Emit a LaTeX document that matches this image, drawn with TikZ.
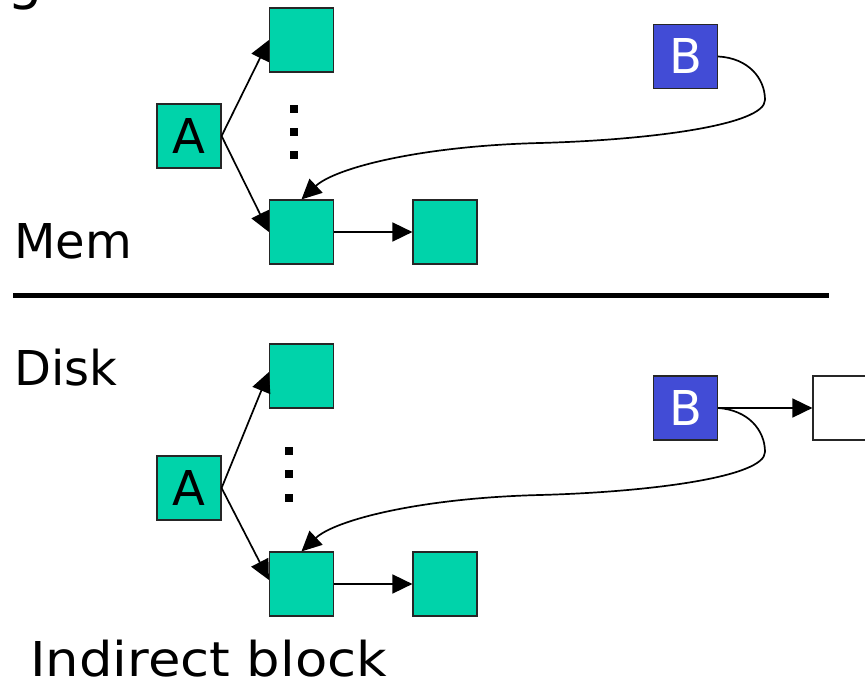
\documentclass[tikz,border=0pt]{standalone}
\usepackage{fontspec}
\setmainfont{DejaVu Sans}
\usetikzlibrary{arrows.meta}
\definecolor{tealB}{RGB}{0,211,170}
\definecolor{blueB}{RGB}{66,76,214}
\begin{document}
\begin{tikzpicture}[x=1pt,y=-1pt,
  blk/.style={draw=black!85, line width=1.2pt, fill=tealB, minimum size=64pt, inner sep=0pt, font=\fontsize{48}{48}\selectfont},
  bblk/.style={blk, fill=blueB, text=white},
  wblk/.style={blk, fill=white},
  dotsq/.style={fill=black, minimum size=8pt, inner sep=0pt},
  conn/.style={line width=1.7pt, -{Triangle[length=20pt,width=19pt]}},
  lbl/.style={inner sep=0pt, anchor=base west, font=\fontsize{48}{48}\selectfont}]
\clip (0,0) rectangle (865,684);
% ---- Mem section
\node[blk] (A1) at (189,136) {A};
\node[blk] (T1) at (301.5,40) {};
\node[blk] (M1) at (301.5,232) {};
\node[blk] (R1) at (445,232) {};
\node[bblk] (B1) at (685.5,56.5) {B};
\node[dotsq] (d11) at (294,109) {};
\node[dotsq] (d12) at (294,132) {};
\node[dotsq] (d13) at (294,155) {};
\draw[conn] (A1.east) -- (T1.west);
\draw[conn] (A1.east) -- (M1.west);
\draw[conn] (M1.east) -- (R1.west);
\draw[conn] (B1.east) .. controls (748,58) and (765,78) .. (765,100)
  .. controls (765,125) and (650,140) .. (540,143)
  .. controls (420,146) and (335,168) .. (M1.north);
% ---- separator
\coordinate (s1) at (13,296);
\coordinate (s2) at (829,296);
\draw[line width=5pt] (s1) -- (s2);
% ---- Disk section
\node[blk] (A2) at (189,488) {A};
\node[blk] (T2) at (301.5,376) {};
\node[blk] (M2) at (301.5,584) {};
\node[blk] (R2) at (445,584) {};
\node[bblk] (B2) at (685.5,408) {B};
\node[wblk] (W2) at (845,408) {};
\node[dotsq] (d21) at (289,451) {};
\node[dotsq] (d22) at (289,474) {};
\node[dotsq] (d23) at (289,498) {};
\draw[conn] (A2.east) -- ([yshift=4pt]T2.west);
\draw[conn] (A2.east) -- ([yshift=4pt]M2.west);
\draw[conn] (M2.east) -- (R2.west);
\draw[conn] (B2.east) -- (W2.west);
\draw[conn] (B2.east) .. controls (748,410) and (765,430) .. (765,452)
  .. controls (765,477) and (650,492) .. (540,495)
  .. controls (420,498) and (335,520) .. (M2.north);
% ---- labels
\node[lbl] (mem) at (14,259) {Mem};
\node[lbl] (disk) at (14,386) {Disk};
\node[lbl] (ib) at (30,676) {\scalebox{1.1}[1]{Indirect block}};
\node[lbl, font=\fontsize{56}{56}\selectfont] (g) at (7,-1) {g};
\end{tikzpicture}
\end{document}
